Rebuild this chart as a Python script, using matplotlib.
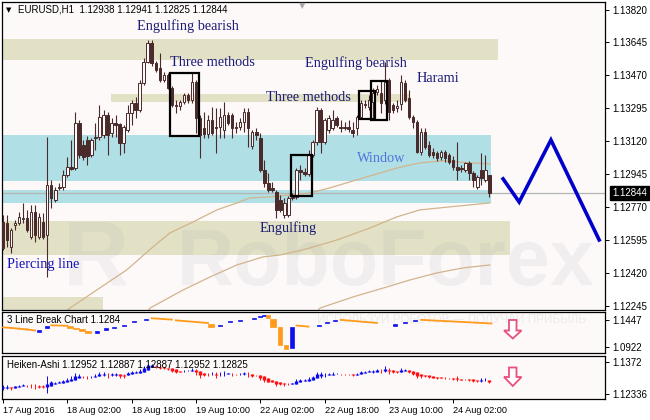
import matplotlib
matplotlib.use("Agg")
import matplotlib.pyplot as plt
from matplotlib.patches import Rectangle, Polygon
from matplotlib import font_manager as fm
import matplotlib.transforms as mtrans
import numpy as np

plt.rcParams['font.family'] = ['Liberation Sans', 'DejaVu Sans']

W, H = 650, 420

# ---------------- data ----------------
time_labels = ["17 Aug 2016", "18 Aug 02:00", "18 Aug 18:00", "19 Aug 10:00",
               "22 Aug 02:00", "22 Aug 18:00", "23 Aug 10:00", "24 Aug 02:00"]
time_label_bars = [0, 16, 32, 48, 64, 80, 96, 112]

opens = [1.12690, 1.12685, 1.12557, 1.12674, 1.12685, 1.12706, 1.12711, 1.12610, 1.12743, 1.12610,
         1.12690, 1.12621, 1.12887, 1.12807, 1.12871, 1.12876, 1.12940, 1.12983, 1.12977, 1.13217,
         1.13100, 1.13126, 1.13046, 1.13137, 1.13142, 1.13153, 1.13259, 1.13163, 1.13217, 1.13211,
         1.13110, 1.13179, 1.13270, 1.13323, 1.13286, 1.13429, 1.13541, 1.13642, 1.13536, 1.13509,
         1.13445, 1.13472, 1.13403, 1.13312, 1.13307, 1.13328, 1.13366, 1.13339, 1.13435, 1.13243,
         1.13190, 1.13158, 1.13233, 1.13195, 1.13195, 1.13179, 1.13259, 1.13259, 1.13195, 1.13195,
         1.13222, 1.13275, 1.13094, 1.13169, 1.13137, 1.12967, 1.12897, 1.12871, 1.12850, 1.12807,
         1.12727, 1.12727, 1.12818, 1.12823, 1.12967, 1.12956, 1.12945, 1.13046, 1.13116, 1.13286,
         1.13116, 1.13179, 1.13190, 1.13243, 1.13195, 1.13195, 1.13195, 1.13179, 1.13190, 1.13249,
         1.13312, 1.13302, 1.13328, 1.13382, 1.13376, 1.13339, 1.13445, 1.13312, 1.13296, 1.13318,
         1.13429, 1.13350, 1.13249, 1.13222, 1.13062, 1.13169, 1.13100, 1.13062, 1.13057, 1.13036,
         1.13062, 1.13046, 1.13020, 1.12983, 1.12977, 1.12967, 1.13004, 1.12951, 1.12876, 1.12967,
         1.12913, 1.12938]
highs = [1.12727, 1.12727, 1.12658, 1.12701, 1.12743, 1.12791, 1.12754, 1.12780, 1.12780, 1.12738,
         1.12738, 1.13142, 1.12913, 1.12876, 1.12897, 1.12967, 1.13036, 1.13126, 1.13275, 1.13233,
         1.13126, 1.13148, 1.13137, 1.13217, 1.13312, 1.13286, 1.13275, 1.13243, 1.13259, 1.13217,
         1.13206, 1.13312, 1.13339, 1.13355, 1.13445, 1.13562, 1.13658, 1.13658, 1.13546, 1.13589,
         1.13488, 1.13483, 1.13413, 1.13339, 1.13339, 1.13376, 1.13376, 1.13483, 1.13445, 1.13259,
         1.13275, 1.13259, 1.13302, 1.13296, 1.13296, 1.13328, 1.13275, 1.13270, 1.13222, 1.13243,
         1.13296, 1.13296, 1.13179, 1.13190, 1.13163, 1.13020, 1.12951, 1.12903, 1.12860, 1.12834,
         1.12818, 1.12828, 1.12844, 1.12977, 1.12993, 1.12977, 1.13073, 1.13126, 1.13302, 1.13296,
         1.13243, 1.13259, 1.13286, 1.13254, 1.13233, 1.13222, 1.13233, 1.13222, 1.13259, 1.13339,
         1.13339, 1.13366, 1.13403, 1.13419, 1.13445, 1.13541, 1.13456, 1.13323, 1.13339, 1.13472,
         1.13445, 1.13392, 1.13259, 1.13233, 1.13190, 1.13190, 1.13121, 1.13084, 1.13068, 1.13073,
         1.13073, 1.13057, 1.13041, 1.13116, 1.12993, 1.13009, 1.13015, 1.12961, 1.12940, 1.13057,
         1.13046, 1.12941]
lows = [1.12541, 1.12557, 1.12525, 1.12647, 1.12674, 1.12685, 1.12637, 1.12600, 1.12584, 1.12600,
        1.12600, 1.12397, 1.12764, 1.12796, 1.12860, 1.12860, 1.12929, 1.12967, 1.12967, 1.13030,
        1.13020, 1.12993, 1.13036, 1.13073, 1.13126, 1.13137, 1.13046, 1.13142, 1.13142, 1.13046,
        1.13057, 1.13169, 1.13206, 1.13243, 1.13275, 1.13419, 1.13536, 1.13520, 1.13488, 1.13435,
        1.13435, 1.13397, 1.13302, 1.13270, 1.13286, 1.13318, 1.13323, 1.13323, 1.13163, 1.13030,
        1.13137, 1.13137, 1.13153, 1.13057, 1.13137, 1.13137, 1.13206, 1.13137, 1.13163, 1.13179,
        1.13169, 1.13089, 1.13078, 1.13126, 1.12956, 1.12876, 1.12850, 1.12850, 1.12711, 1.12743,
        1.12711, 1.12717, 1.12807, 1.12812, 1.12913, 1.12935, 1.12935, 1.13036, 1.13100, 1.13057,
        1.13105, 1.13163, 1.13179, 1.13195, 1.13169, 1.13179, 1.13169, 1.13142, 1.13153, 1.13238,
        1.13296, 1.13286, 1.13243, 1.13366, 1.13270, 1.13318, 1.13233, 1.13270, 1.13275, 1.13286,
        1.13328, 1.13238, 1.13190, 1.13057, 1.13046, 1.13078, 1.13036, 1.13030, 1.13015, 1.13020,
        1.13009, 1.12999, 1.12967, 1.12913, 1.12956, 1.12956, 1.12913, 1.12876, 1.12865, 1.12887,
        1.12903, 1.12825]
closes = [1.12552, 1.12594, 1.12647, 1.12685, 1.12717, 1.12711, 1.12647, 1.12743, 1.12621, 1.12717,
          1.12610, 1.12887, 1.12818, 1.12860, 1.12876, 1.12940, 1.12983, 1.12972, 1.13217, 1.13046,
          1.13036, 1.13041, 1.13126, 1.13142, 1.13249, 1.13259, 1.13153, 1.13217, 1.13206, 1.13110,
          1.13195, 1.13270, 1.13323, 1.13286, 1.13429, 1.13541, 1.13642, 1.13536, 1.13499, 1.13445,
          1.13472, 1.13403, 1.13312, 1.13307, 1.13328, 1.13366, 1.13339, 1.13435, 1.13243, 1.13153,
          1.13158, 1.13233, 1.13163, 1.13190, 1.13249, 1.13259, 1.13217, 1.13190, 1.13190, 1.13222,
          1.13275, 1.13190, 1.13169, 1.13153, 1.12967, 1.12897, 1.12860, 1.12860, 1.12754, 1.12754,
          1.12791, 1.12818, 1.12823, 1.12967, 1.12956, 1.12945, 1.13046, 1.13116, 1.13286, 1.13116,
          1.13233, 1.13243, 1.13233, 1.13206, 1.13190, 1.13190, 1.13185, 1.13163, 1.13249, 1.13323,
          1.13318, 1.13339, 1.13376, 1.13397, 1.13323, 1.13435, 1.13275, 1.13286, 1.13307, 1.13435,
          1.13339, 1.13249, 1.13222, 1.13062, 1.13169, 1.13089, 1.13046, 1.13046, 1.13030, 1.13062,
          1.13030, 1.13009, 1.12983, 1.12967, 1.12972, 1.13004, 1.12951, 1.12913, 1.12929, 1.12924,
          1.12967, 1.12844]

price_ticks = [1.13820, 1.13645, 1.13470, 1.13295, 1.13120, 1.12945, 1.12770, 1.12595, 1.12420, 1.12245]
last_price = 1.12844

# support / resistance zones: bar range and price range
zone_bar_from = [-0.25, 26.9, -0.25, -0.25, -0.25, -0.25]
zone_bar_to = [123.1, 101.2, 126.1, 24.9, 121.4, 121.4]
zone_low = [1.13552, 1.13328, 1.12514, 1.12200, 1.12908, 1.12791]
zone_high = [1.13663, 1.13371, 1.12695, 1.12291, 1.13153, 1.12860]
zone_kind = ["beige", "beige", "beige", "beige", "cyan", "cyan"]

# moving averages (values read at bars)
ma_fast_bars = [14.2, 16.7, 24.1, 30.8, 37.3, 41.5, 47.3, 53.2, 58.2, 61.4, 66.4, 76.4, 81.3, 89.6,
                98.0, 103.7, 109.5, 116.2, 121.1]
ma_fast_vals = [1.12190, 1.12232, 1.12339, 1.12435, 1.12557, 1.12631, 1.12690, 1.12754, 1.12791,
                1.12818, 1.12823, 1.12844, 1.12871, 1.12924, 1.12977, 1.13004, 1.13015, 1.13004, 1.12999]
ma_mid_bars = [35.5, 36.6, 44.8, 51.5, 58.2, 64.7, 68.9, 74.6, 83.1, 91.3, 98.0, 103.7, 111.2, 121.1]
ma_mid_vals = [1.12200, 1.12232, 1.12328, 1.12397, 1.12461, 1.12504, 1.12514, 1.12541, 1.12594,
               1.12658, 1.12717, 1.12754, 1.12770, 1.12791]
ma_slow_bars = [77.5, 78.9, 87.1, 95.5, 101.2, 108.0, 114.4, 121.1]
ma_slow_vals = [1.12200, 1.12232, 1.12291, 1.12344, 1.12381, 1.12419, 1.12445, 1.12461]

# pattern boxes
box_bar_from = [41.5, 71.6, 88.6, 91.5]
box_bar_to = [48.8, 76.9, 92.5, 95.5]
box_low = [1.13149, 1.12828, 1.13238, 1.13233]
box_high = [1.13484, 1.13046, 1.13387, 1.13440]

# pattern labels
label_texts = ["Engulfing bearish", "Three methods", "Engulfing bearish", "Three methods",
               "Harami", "Window", "Engulfing", "Piercing line"]
label_bars = [33.3, 41.5, 75.1, 65.4, 103.0, 88.1, 63.9, 1.0]
label_prices = [1.13733, 1.13536, 1.13536, 1.13350, 1.13451, 1.13030, 1.12658, 1.12461]
label_colors = ["#1c1c78", "#1c1c78", "#1c1c78", "#1c1c78", "#1c1c78", "#5274dc", "#1c1c78", "#1212b8"]

# forecast path
forecast_bars = [124.4, 128.4, 136.3, 148.3]
forecast_prices = [1.12919, 1.12796, 1.13126, 1.12594]

# 3 line break bricks
lb_start = [0, 2, 4, 6, 8.5, 10.5, 12, 16, 17.5, 19, 20.5, 23, 25, 27, 29.5, 32, 35, 37, 43, 51,
            53.5, 56, 58.5, 62, 63.5, 64.5, 65.5, 66.5, 68.5, 70, 71.5, 73, 78, 80, 82, 84, 97, 99.5, 102, 104]
lb_end = [2, 4, 6, 8, 9.5, 11.5, 16, 17.5, 19, 20.5, 22, 24, 26, 28, 30.5, 33, 36, 42, 51, 52.5,
          54.5, 57, 59.5, 63, 64.5, 65.5, 66.5, 68, 69.5, 71, 72.5, 76, 79, 81, 83, 93, 98, 100.5, 103, 121.5]
lb_from = [1.1305, 1.1295, 1.1280, 1.1265, 1.1222, 1.1300, 1.1345, 1.1335, 1.1300, 1.1270,
           1.1235, 1.1200, 1.1250, 1.1295, 1.1330, 1.1400, 1.1445, 1.1480, 1.1440, 1.1370,
           1.1330, 1.1400, 1.1430, 1.1460, 1.1500, 1.1530, 1.1550, 1.1460, 1.1320, 1.0970,
           1.0900, 1.1340, 1.1330, 1.1380, 1.1420, 1.1450, 1.1340, 1.1390, 1.1430, 1.1450]
lb_to = [1.1295, 1.1280, 1.1265, 1.1245, 1.1254, 1.1338, 1.1335, 1.1300, 1.1270, 1.1235,
         1.1200, 1.1230, 1.1285, 1.1320, 1.1350, 1.1427, 1.1470, 1.1455, 1.1390, 1.1320,
         1.1360, 1.1420, 1.1450, 1.1480, 1.1520, 1.1550, 1.1480, 1.1320, 1.0970, 1.0880,
         1.1320, 1.1320, 1.1360, 1.1400, 1.1440, 1.1390, 1.1370, 1.1410, 1.1450, 1.1380]
lb_ticks = [1.1447, 1.0922]
ha_ticks = [1.1372, 1.12336]
ha_tick_labels = ["1.1372", "1.12336"]

# ---------------- layout helpers ----------------
BG = "#fdf9f9"
DARK = "#4a2a2a"


def frac_box(x0, y0, x1, y1):
    return [x0 / W, 1 - y1 / H, (x1 - x0) / W, (y1 - y0) / H]


def bar_of_px(px):
    return (px - 3) / 4.02


fig = plt.figure(figsize=(W / 100, H / 100), dpi=100)
fig.patch.set_facecolor("white")

XL = (-0.25, 149.75)

ax = fig.add_axes(frac_box(2, 2, 605, 309.5))
ax1 = fig.add_axes(frac_box(2, 312, 605, 352.7))
ax2 = fig.add_axes(frac_box(2, 355.7, 605, 399.3))

for a in (ax, ax1, ax2):
    a.set_facecolor(BG)
    a.set_xlim(*XL)
    for s in a.spines.values():
        s.set_linewidth(0.9)
        s.set_color("black")
    a.yaxis.tick_right()
    a.tick_params(axis="y", direction="out", length=3, width=0.7, labelsize=7, pad=2.5,
                  colors="black")

# ---------------- main chart ----------------
ax.set_ylim(1.12224, 1.13860)
ax.set_yticks(price_ticks)
ax.set_yticklabels(["%.5f" % p for p in price_ticks])
ax.set_xticks([])

zone_colors = {"beige": "#e2e1c6", "cyan": "#b0dfe5"}
for x0, x1, lo, hi, k in zip(zone_bar_from, zone_bar_to, zone_low, zone_high, zone_kind):
    ax.add_patch(Rectangle((x0, lo), x1 - x0, hi - lo, facecolor=zone_colors[k],
                           edgecolor="none", zorder=1))

# watermark (logo letter + brand name)
ax.text(bar_of_px(63), 1.12355, "R", fontsize=66, fontweight="bold",
        family=["Liberation Sans", "DejaVu Sans"], color="#7a7a96", alpha=0.075, ha="left",
        va="baseline", zorder=1.5)
ax.text(bar_of_px(177), 1.12355, "RoboForex", fontsize=57, fontweight="bold",
        family=["Liberation Sans", "DejaVu Sans"], color="#7a7a96", alpha=0.085, ha="left",
        va="baseline", zorder=1.5)

ax.axhline(last_price, color="#b4b4b4", lw=0.9, zorder=2)

ax.plot(ma_fast_bars, ma_fast_vals, color="#d2b48c", lw=0.9, zorder=2.2)
ax.plot(ma_mid_bars, ma_mid_vals, color="#d2b48c", lw=0.9, zorder=2.2)
ax.plot(ma_slow_bars, ma_slow_vals, color="#d2b48c", lw=0.9, zorder=2.2)

o = np.array(opens); h = np.array(highs); l = np.array(lows); c = np.array(closes)
xs = np.arange(len(o))
ax.vlines(xs, l, h, color=DARK, lw=0.8, zorder=4)
body_lo = np.minimum(o, c)
body_h = np.maximum(np.abs(c - o), 0.000012)
face = [DARK if cc < oo else BG for oo, cc in zip(o, c)]
ax.bar(xs, body_h, bottom=body_lo, width=0.62, color=face, edgecolor=DARK, linewidth=0.7,
       zorder=5)

for x0, x1, lo, hi in zip(box_bar_from, box_bar_to, box_low, box_high):
    ax.add_patch(Rectangle((x0, lo), x1 - x0, hi - lo, fill=False, edgecolor="black",
                           lw=1.6, zorder=6))

for t, bx, py, col in zip(label_texts, label_bars, label_prices, label_colors):
    ax.text(bx, py, t, family=["Liberation Serif", "DejaVu Serif"], fontsize=10.3, color=col,
            ha="left", va="center", zorder=7)

ax.plot(forecast_bars, forecast_prices, color="#0000cc", lw=2.6, zorder=6,
        solid_joinstyle="miter", clip_on=False)

trans = mtrans.blended_transform_factory(ax.transAxes, ax.transData)
ax.text((612 - 2) / 603, last_price, "%.5f" % last_price, transform=trans, fontsize=7,
        color="white", ha="left", va="center", zorder=10,
        bbox=dict(boxstyle="square,pad=0.22", fc="black", ec="black"), clip_on=False)

fig.text(6 / W, 1 - 10 / H, "\u25BC", fontsize=5, family="DejaVu Sans", va="center", ha="left")
fig.text(18 / W, 1 - 10 / H, "EURUSD,H1  1.12938 1.12941 1.12825 1.12844", fontsize=7,
         va="center", ha="left")
fig.text(299 / W, 1 - 6 / H, "\u25BC", fontsize=6, family="DejaVu Sans", va="center",
         ha="left", color="#a8a8a8")

# ---------------- 3 line break ----------------
ax1.set_ylim(1.08182, 1.16008)
ax1.set_yticks(lb_ticks)
ax1.set_yticklabels(["%.4f" % v for v in lb_ticks])
ax1.set_xticks([])
ax1.text(bar_of_px(317), 1.1440, "ИСПОЛЬЗУЙ РОБОТОВ — ПОЛУЧАЙ ПРИБЫЛЬ", fontsize=8.5,
         color="#ebebeb", ha="left", va="center", zorder=0.5)
for s0, s1, f0, f1 in zip(lb_start, lb_end, lb_from, lb_to):
    if f1 > f0:
        ax1.add_patch(Rectangle((s0, f0), s1 - s0, f1 - f0, facecolor="#1010ee",
                                edgecolor="#1010ee", lw=0.5, zorder=3))
    elif s1 - s0 > 1.6:
        ax1.plot([s0, s1], [f0, f1], color="#ff9a1a", lw=1.3, zorder=3)
    else:
        ax1.add_patch(Rectangle((s0, f1), s1 - s0, f0 - f1, facecolor="#ff9a1a",
                                edgecolor="#ff9a1a", lw=0.5, zorder=3))
ax1.text(0.008, 0.80, "3 Line Break Chart 1.1284", transform=ax1.transAxes, fontsize=7,
         ha="left", va="center")

# ---------------- Heiken Ashi ----------------
ha_close = (o + h + l + c) / 4
ha_open = np.zeros_like(ha_close)
ha_open[0] = (o[0] + c[0]) / 2
for i in range(1, len(o)):
    ha_open[i] = (ha_open[i - 1] + ha_close[i - 1]) / 2
ha_high = np.maximum(h, np.maximum(ha_open, ha_close))
ha_low = np.minimum(l, np.minimum(ha_open, ha_close))
ha_col = ["#0a0aee" if cc >= oo else "#ff1010" for oo, cc in zip(ha_open, ha_close)]
ax2.set_ylim(1.12120, 1.14005)
ax2.vlines(xs, ha_low, ha_high, colors=ha_col, lw=0.7, zorder=3)
ax2.vlines(xs, np.minimum(ha_open, ha_close), np.maximum(ha_open, ha_close) + 0.00004,
           colors=ha_col, lw=2.4, zorder=3.5)
ax2.set_yticks(ha_ticks)
ax2.set_yticklabels(ha_tick_labels)
ax2.text(0.008, 0.78, "Heiken-Ashi 1.12952 1.12887 1.12887 1.12952 1.12825",
         transform=ax2.transAxes, fontsize=7, ha="left", va="center", zorder=5)
ax2.set_xticks(time_label_bars)
ax2.set_xticklabels(time_labels)
ax2.tick_params(axis="x", direction="out", length=3, width=0.7, labelsize=6.6, pad=1.5)
for lab in ax2.get_xticklabels():
    lab.set_horizontalalignment("left")


# pink arrows
def down_arrow(y_top, y_neck, y_tip):
    pts = [(509, y_top), (516.5, y_top), (516.5, y_neck), (521.5, y_neck), (512.8, y_tip),
           (504, y_neck), (509, y_neck)]
    pts = [(px / W, 1 - py / H) for px, py in pts]
    fig.patches.append(Polygon(pts, closed=True, transform=fig.transFigure, facecolor="white",
                               edgecolor="#e8507a", lw=1.3, zorder=20))


down_arrow(320, 330.5, 338.5)
down_arrow(367.5, 377, 386)

fig.savefig("out.png", dpi=100, facecolor="white")
